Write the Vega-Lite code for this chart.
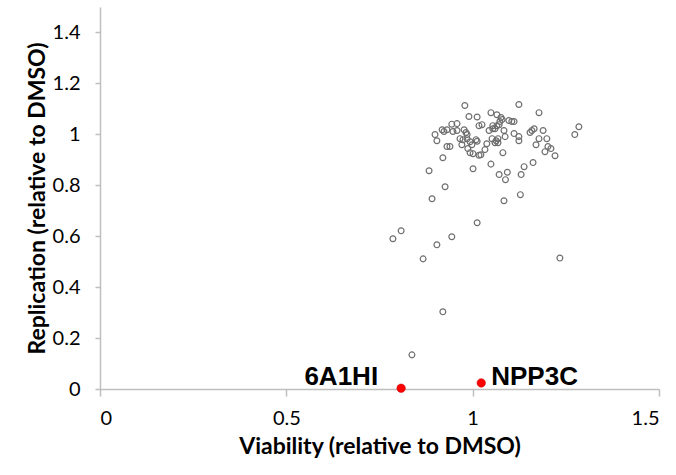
{
  "$schema": "https://vega.github.io/schema/vega-lite/v6.json",
  "width": 559,
  "height": 382,
  "autosize": {"type": "none"},
  "padding": {"left": 100, "top": 7, "right": 17, "bottom": 86},
  "background": "white",
  "config": {"view": {"stroke": null}},
  "datasets": {
    "pts": [
      {"v":0.979,"r":1.113},{"v":1.124,"r":1.117},{"v":0.990,"r":1.070},{"v":1.012,"r":1.068},
      {"v":1.049,"r":1.085},{"v":1.065,"r":1.077},{"v":1.076,"r":1.066},{"v":1.178,"r":1.085},
      {"v":1.097,"r":1.054},{"v":1.105,"r":1.050},{"v":1.111,"r":1.050},{"v":1.073,"r":1.050},
      {"v":1.079,"r":1.058},{"v":1.017,"r":1.034},{"v":1.025,"r":1.038},{"v":1.054,"r":1.034},
      {"v":1.065,"r":1.034},{"v":1.071,"r":1.038},{"v":0.944,"r":1.040},{"v":0.958,"r":1.042},
      {"v":0.918,"r":1.018},{"v":0.923,"r":1.011},{"v":0.931,"r":1.018},{"v":0.899,"r":0.999},
      {"v":0.904,"r":0.975},{"v":0.947,"r":1.011},{"v":0.958,"r":1.015},{"v":0.977,"r":1.018},
      {"v":0.982,"r":1.007},{"v":0.985,"r":0.999},{"v":1.044,"r":1.015},{"v":1.054,"r":1.022},
      {"v":1.060,"r":1.022},{"v":1.084,"r":1.015},{"v":1.111,"r":1.003},{"v":1.124,"r":0.991},
      {"v":1.124,"r":0.975},{"v":1.087,"r":0.991},{"v":1.154,"r":1.007},{"v":1.159,"r":1.015},
      {"v":1.165,"r":1.022},{"v":1.189,"r":1.015},{"v":1.178,"r":0.983},{"v":1.199,"r":0.983},
      {"v":1.170,"r":0.959},{"v":0.966,"r":0.983},{"v":0.974,"r":0.979},{"v":0.985,"r":0.983},
      {"v":1.009,"r":0.979},{"v":1.012,"r":0.973},{"v":0.993,"r":0.971},{"v":0.998,"r":0.959},
      {"v":0.987,"r":0.944},{"v":0.971,"r":0.959},{"v":1.038,"r":0.963},{"v":1.052,"r":0.983},
      {"v":1.063,"r":0.975},{"v":1.060,"r":0.967},{"v":1.068,"r":0.967},{"v":1.068,"r":0.983},
      {"v":0.939,"r":0.952},{"v":0.931,"r":0.952},{"v":1.033,"r":0.940},{"v":1.022,"r":0.920},
      {"v":1.001,"r":0.924},{"v":0.993,"r":0.928},{"v":1.017,"r":0.918},{"v":1.081,"r":0.928},
      {"v":1.202,"r":0.952},{"v":1.210,"r":0.944},{"v":1.194,"r":0.932},{"v":1.221,"r":0.916},
      {"v":1.285,"r":1.030},{"v":1.274,"r":0.999},{"v":0.920,"r":0.908},{"v":1.049,"r":0.883},
      {"v":1.001,"r":0.865},{"v":0.883,"r":0.857},{"v":1.071,"r":0.842},{"v":1.088,"r":0.822},
      {"v":1.093,"r":0.851},{"v":1.130,"r":0.842},{"v":1.138,"r":0.873},{"v":1.162,"r":0.889},
      {"v":0.926,"r":0.794},{"v":0.891,"r":0.747},{"v":1.084,"r":0.739},{"v":1.128,"r":0.763},
      {"v":1.012,"r":0.653},{"v":0.808,"r":0.621},{"v":0.786,"r":0.590},{"v":0.944,"r":0.598},
      {"v":0.904,"r":0.566},{"v":0.867,"r":0.511},{"v":0.920,"r":0.303},{"v":0.837,"r":0.134},
      {"v":1.234,"r":0.514}
    ],
    "hits": [
      {"v":0.808,"r":0.003,"name":"6A1HI"},
      {"v":1.023,"r":0.024,"name":"NPP3C"}
    ]
  },
  "encoding": {
    "x": {"field": "v", "type": "quantitative",
      "scale": {"domain": [0, 1.5], "nice": false, "zero": false},
      "axis": {"title": "Viability (relative to DMSO)", "values": [0, 0.5, 1, 1.5], "format": "~g",
        "grid": false, "domainColor": "#bfbfbf", "domainWidth": 1.5, "tickColor": "#bfbfbf", "tickWidth": 1.5, "tickSize": 7,
        "labelFont": "Lato", "labelFontSize": 20, "labelColor": "#000000", "labelPadding": 12,
        "titleFont": "Lato", "titleFontSize": 23, "titleFontWeight": "bold", "titleColor": "#000000", "titlePadding": 7}},
    "y": {"field": "r", "type": "quantitative",
      "scale": {"domain": [0, 1.5], "nice": false, "zero": false},
      "axis": {"title": "Replication (relative to DMSO)", "values": [0, 0.2, 0.4, 0.6, 0.8, 1, 1.2, 1.4], "format": "~g",
        "grid": false, "domainColor": "#bfbfbf", "domainWidth": 1.5, "tickColor": "#bfbfbf", "tickWidth": 1.5, "tickSize": 5,
        "labelFont": "Lato", "labelFontSize": 20, "labelColor": "#000000", "labelPadding": 15,
        "titleFont": "Lato", "titleFontSize": 23, "titleFontWeight": "bold", "titleColor": "#000000", "titlePadding": 3}}
  },
  "layer": [
    {"data": {"name": "pts"},
     "mark": {"type": "point", "shape": "circle", "filled": false, "stroke": "#6e6e6e", "strokeWidth": 1.2, "size": 34, "opacity": 1}},
    {"data": {"name": "hits"},
     "mark": {"type": "point", "shape": "circle", "filled": true, "fill": "#ff0000", "stroke": "#c00000", "strokeWidth": 0.5, "size": 72, "opacity": 1}},
    {"data": {"name": "hits"},
     "transform": [{"filter": "datum.name === '6A1HI'"}],
     "mark": {"type": "text", "font": "Liberation Sans", "fontWeight": "bold", "fontSize": 26, "align": "right", "baseline": "alphabetic", "dx": -23, "dy": -3, "color": "#000000"},
     "encoding": {"text": {"field": "name"}}},
    {"data": {"name": "hits"},
     "transform": [{"filter": "datum.name === 'NPP3C'"}],
     "mark": {"type": "text", "font": "Liberation Sans", "fontWeight": "bold", "fontSize": 26, "align": "left", "baseline": "alphabetic", "dx": 10, "dy": 2, "color": "#000000"},
     "encoding": {"text": {"field": "name"}}}
  ]
}
